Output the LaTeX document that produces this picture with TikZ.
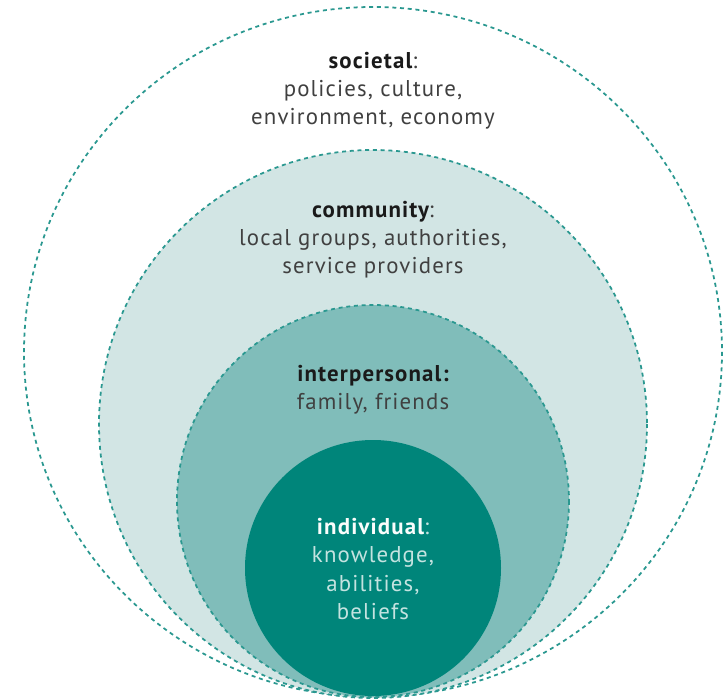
\documentclass[tikz,border=0pt]{standalone}
\usepackage{fontspec}
\setmainfont[LetterSpace=5]{PT Sans}
\begin{document}
\definecolor{ringline}{HTML}{2A9890}
\definecolor{commfill}{HTML}{D2E5E4}
\definecolor{interfill}{HTML}{80BDBA}
\definecolor{indivfill}{HTML}{00857A}
\definecolor{bodytext}{HTML}{404040}
\definecolor{headtext}{HTML}{1A1A1A}
\definecolor{indivtext}{HTML}{C4E3E0}
\begin{tikzpicture}[x=0.03cm,y=-0.03cm,
  ring/.style={draw=ringline,line width=1.5pt,dash pattern=on 3.4pt off 3.2pt},
  label/.style={align=center,font=\fontsize{19.5}{24}\selectfont,text=bodytext,inner sep=0pt}]
\useasboundingbox (0,0) rectangle (723,700);
% societal ring
\draw[ring,fill=white] (373,352) ellipse [x radius=349,y radius=345];
% community ring
\draw[ring,fill=commfill] (373,424) circle [radius=274];
% interpersonal ring
\draw[ring,fill=interfill] (373,501) circle [radius=196];
% individual core
\fill[indivfill] (373,568) circle [radius=128];
% labels
\node[label] (soc) at (373,90.5) {{\bfseries\color{headtext}societal}:\\policies, culture,\\environment, economy};
\node[label] (com) at (373,239.5) {{\bfseries\color{headtext}community}:\\local groups, authorities,\\service providers};
\node[label] (int) at (373,389.5) {{\bfseries\color{headtext}interpersonal:}\\family, friends};
\node[label,text=indivtext] (ind) at (373,569) {{\bfseries\color{white!92!indivtext}individual}:\\knowledge,\\abilities,\\beliefs};
\end{tikzpicture}
\end{document}
